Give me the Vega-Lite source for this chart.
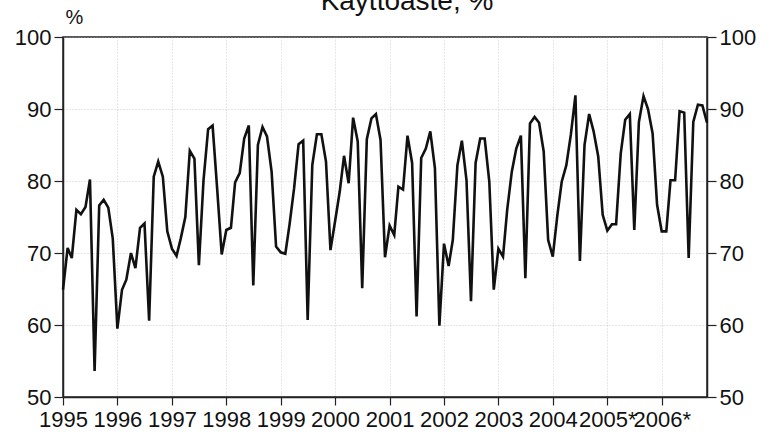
{
  "$schema": "https://vega.github.io/schema/vega-lite/v6.json",
  "width": 644,
  "height": 360,
  "autosize": {"type": "none"},
  "padding": {"left": 63, "top": 37, "right": 67, "bottom": 39},
  "background": "white",
  "title": {
    "text": "Käyttöaste, %",
    "anchor": "middle",
    "frame": "group",
    "font": "Liberation Sans",
    "fontSize": 28,
    "fontWeight": "normal",
    "color": "#111",
    "baseline": "alphabetic",
    "dx": 22,
    "dy": 31,
    "offset": 0
  },
  "config": {
    "view": {"stroke": "#222", "strokeWidth": 1.5},
    "axis": {
      "labelFont": "Liberation Sans",
      "labelFontSize": 22,
      "labelColor": "#111",
      "domainColor": "#222",
      "domainWidth": 1.5,
      "tickColor": "#222",
      "tickWidth": 1.2,
      "gridColor": "#aaa",
      "gridDash": [1, 2],
      "gridWidth": 1,
      "gridOpacity": 0.6
    }
  },
  "data": {
    "values": [
      {"date": "1995-01-01", "v": 64.9}, {"date": "1995-02-01", "v": 70.7}, {"date": "1995-03-01", "v": 69.3}, {"date": "1995-04-01", "v": 76.0}, {"date": "1995-05-01", "v": 75.4}, {"date": "1995-06-01", "v": 76.4}, {"date": "1995-07-01", "v": 80.2}, {"date": "1995-08-01", "v": 53.6}, {"date": "1995-09-01", "v": 76.6}, {"date": "1995-10-01", "v": 77.4}, {"date": "1995-11-01", "v": 76.3}, {"date": "1995-12-01", "v": 72.0},
      {"date": "1996-01-01", "v": 59.5}, {"date": "1996-02-01", "v": 64.9}, {"date": "1996-03-01", "v": 66.3}, {"date": "1996-04-01", "v": 70.0}, {"date": "1996-05-01", "v": 67.9}, {"date": "1996-06-01", "v": 73.5}, {"date": "1996-07-01", "v": 74.1}, {"date": "1996-08-01", "v": 60.6}, {"date": "1996-09-01", "v": 80.6}, {"date": "1996-10-01", "v": 82.7}, {"date": "1996-11-01", "v": 80.6}, {"date": "1996-12-01", "v": 73.0},
      {"date": "1997-01-01", "v": 70.6}, {"date": "1997-02-01", "v": 69.6}, {"date": "1997-03-01", "v": 72.0}, {"date": "1997-04-01", "v": 75.0}, {"date": "1997-05-01", "v": 84.2}, {"date": "1997-06-01", "v": 83.1}, {"date": "1997-07-01", "v": 68.3}, {"date": "1997-08-01", "v": 80.1}, {"date": "1997-09-01", "v": 87.2}, {"date": "1997-10-01", "v": 87.7}, {"date": "1997-11-01", "v": 78.8}, {"date": "1997-12-01", "v": 69.8},
      {"date": "1998-01-01", "v": 73.2}, {"date": "1998-02-01", "v": 73.5}, {"date": "1998-03-01", "v": 79.8}, {"date": "1998-04-01", "v": 81.1}, {"date": "1998-05-01", "v": 85.9}, {"date": "1998-06-01", "v": 87.7}, {"date": "1998-07-01", "v": 65.5}, {"date": "1998-08-01", "v": 85.0}, {"date": "1998-09-01", "v": 87.5}, {"date": "1998-10-01", "v": 86.2}, {"date": "1998-11-01", "v": 81.3}, {"date": "1998-12-01", "v": 70.9},
      {"date": "1999-01-01", "v": 70.1}, {"date": "1999-02-01", "v": 69.9}, {"date": "1999-03-01", "v": 73.9}, {"date": "1999-04-01", "v": 79.0}, {"date": "1999-05-01", "v": 85.1}, {"date": "1999-06-01", "v": 85.6}, {"date": "1999-07-01", "v": 60.7}, {"date": "1999-08-01", "v": 82.2}, {"date": "1999-09-01", "v": 86.5}, {"date": "1999-10-01", "v": 86.5}, {"date": "1999-11-01", "v": 82.7}, {"date": "1999-12-01", "v": 70.4},
      {"date": "2000-01-01", "v": 74.4}, {"date": "2000-02-01", "v": 78.5}, {"date": "2000-03-01", "v": 83.5}, {"date": "2000-04-01", "v": 79.7}, {"date": "2000-05-01", "v": 88.8}, {"date": "2000-06-01", "v": 85.5}, {"date": "2000-07-01", "v": 65.1}, {"date": "2000-08-01", "v": 85.8}, {"date": "2000-09-01", "v": 88.7}, {"date": "2000-10-01", "v": 89.3}, {"date": "2000-11-01", "v": 85.7}, {"date": "2000-12-01", "v": 69.4},
      {"date": "2001-01-01", "v": 73.8}, {"date": "2001-02-01", "v": 72.5}, {"date": "2001-03-01", "v": 79.2}, {"date": "2001-04-01", "v": 78.8}, {"date": "2001-05-01", "v": 86.3}, {"date": "2001-06-01", "v": 82.5}, {"date": "2001-07-01", "v": 61.2}, {"date": "2001-08-01", "v": 83.2}, {"date": "2001-09-01", "v": 84.5}, {"date": "2001-10-01", "v": 86.9}, {"date": "2001-11-01", "v": 81.8}, {"date": "2001-12-01", "v": 59.9},
      {"date": "2002-01-01", "v": 71.3}, {"date": "2002-02-01", "v": 68.2}, {"date": "2002-03-01", "v": 71.8}, {"date": "2002-04-01", "v": 82.2}, {"date": "2002-05-01", "v": 85.6}, {"date": "2002-06-01", "v": 80.1}, {"date": "2002-07-01", "v": 63.3}, {"date": "2002-08-01", "v": 82.5}, {"date": "2002-09-01", "v": 85.9}, {"date": "2002-10-01", "v": 85.9}, {"date": "2002-11-01", "v": 79.9}, {"date": "2002-12-01", "v": 64.9},
      {"date": "2003-01-01", "v": 70.6}, {"date": "2003-02-01", "v": 69.5}, {"date": "2003-03-01", "v": 76.0}, {"date": "2003-04-01", "v": 81.3}, {"date": "2003-05-01", "v": 84.5}, {"date": "2003-06-01", "v": 86.3}, {"date": "2003-07-01", "v": 66.5}, {"date": "2003-08-01", "v": 88.0}, {"date": "2003-09-01", "v": 88.9}, {"date": "2003-10-01", "v": 88.1}, {"date": "2003-11-01", "v": 84.1}, {"date": "2003-12-01", "v": 71.8},
      {"date": "2004-01-01", "v": 69.5}, {"date": "2004-02-01", "v": 75.3}, {"date": "2004-03-01", "v": 79.9}, {"date": "2004-04-01", "v": 82.2}, {"date": "2004-05-01", "v": 86.4}, {"date": "2004-06-01", "v": 91.9}, {"date": "2004-07-01", "v": 68.9}, {"date": "2004-08-01", "v": 85.0}, {"date": "2004-09-01", "v": 89.3}, {"date": "2004-10-01", "v": 86.9}, {"date": "2004-11-01", "v": 83.4}, {"date": "2004-12-01", "v": 75.3},
      {"date": "2005-01-01", "v": 73.1}, {"date": "2005-02-01", "v": 74.0}, {"date": "2005-03-01", "v": 74.0}, {"date": "2005-04-01", "v": 83.8}, {"date": "2005-05-01", "v": 88.5}, {"date": "2005-06-01", "v": 89.3}, {"date": "2005-07-01", "v": 73.2}, {"date": "2005-08-01", "v": 88.2}, {"date": "2005-09-01", "v": 91.8}, {"date": "2005-10-01", "v": 90.0}, {"date": "2005-11-01", "v": 86.6}, {"date": "2005-12-01", "v": 76.7},
      {"date": "2006-01-01", "v": 73.0}, {"date": "2006-02-01", "v": 73.0}, {"date": "2006-03-01", "v": 80.1}, {"date": "2006-04-01", "v": 80.1}, {"date": "2006-05-01", "v": 89.7}, {"date": "2006-06-01", "v": 89.5}, {"date": "2006-07-01", "v": 69.3}, {"date": "2006-08-01", "v": 88.2}, {"date": "2006-09-01", "v": 90.6}, {"date": "2006-10-01", "v": 90.5}, {"date": "2006-11-01", "v": 88.1}
    ]
  },
  "encoding": {
    "x": {
      "field": "date",
      "type": "temporal",
      "scale": {"type": "utc", "nice": false},
      "axis": {
        "title": null,
        "tickCount": {"interval": "year", "step": 1},
        "labelExpr": "utcFormat(datum.value, '%Y') + (utcyear(datum.value) >= 2005 ? '*' : '')",
        "labelAlign": "center",
        "labelFlush": false,
        "labelOverlap": false,
        "labelPadding": 4,
        "tickSize": 8,
        "grid": true
      }
    }
  },
  "layer": [
    {
      "mark": {"type": "line", "color": "#111", "strokeWidth": 2.6},
      "encoding": {
        "y": {
          "field": "v",
          "type": "quantitative",
          "scale": {"domain": [50, 100], "nice": false, "zero": false},
          "axis": {
            "orient": "left",
            "values": [50, 60, 70, 80, 90, 100],
            "grid": true,
            "tickSize": 9,
            "labelPadding": 3,
            "title": "%",
            "titleAngle": 0,
            "titleAlign": "left",
            "titleBaseline": "alphabetic",
            "titleX": 2,
            "titleY": -14,
            "titleFont": "Liberation Sans",
            "titleFontSize": 20,
            "titleFontWeight": "normal",
            "titleColor": "#111"
          }
        }
      }
    },
    {
      "mark": {"type": "line", "strokeOpacity": 0},
      "encoding": {
        "y": {
          "field": "v",
          "type": "quantitative",
          "scale": {"domain": [50, 100], "nice": false, "zero": false},
          "axis": {
            "orient": "right",
            "values": [50, 60, 70, 80, 90, 100],
            "grid": false,
            "tickSize": 9,
            "labelPadding": 3,
            "title": null
          }
        }
      }
    }
  ],
  "resolve": {"axis": {"y": "independent"}}
}
